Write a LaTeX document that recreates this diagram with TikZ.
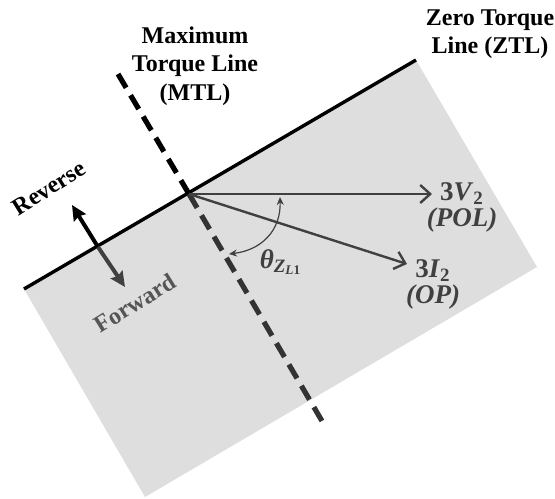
\documentclass[tikz,border=0pt]{standalone}
\usepackage{fontspec}
\setmainfont{Liberation Serif}
\usetikzlibrary{arrows.meta, calc}
\definecolor{zonecolor}{RGB}{222,222,222}
\definecolor{vectorcolor}{RGB}{64,64,64}
\definecolor{fwdcolor}{RGB}{85,85,85}

\begin{document}
\begin{tikzpicture}[
    x=0.5pt, y=-0.5pt,
    zone/.style={fill=zonecolor, draw=none},
    ztl/.style={line width=1.7pt, draw=black},
    mtl/.style={line width=2.6pt, dash pattern=on 8pt off 4.35pt},
    vec/.style={-{Straight Barb[length=5pt,width=9pt]}, line width=1.2pt, draw=vectorcolor},
    dirarrow/.style={-{Stealth[length=7.5pt,width=7pt,inset=1pt]}, line width=2pt},
    anglearc/.style={{Stealth[length=4pt,width=3.5pt]}-{Stealth[length=4pt,width=3.5pt]}, line width=0.6pt, draw=vectorcolor},
    lbl/.style={font=\bfseries\fontsize{12}{14.25}\selectfont, align=center, inner sep=0pt},
    vlbl/.style={font=\bfseries\fontsize{13.5}{13}\selectfont, text=vectorcolor, align=center, inner sep=0pt}
]
    \useasboundingbox (0,0) rectangle (555,498);

    % Forward region
    \coordinate (tl) at (24,289);
    \coordinate (tr) at (416,60);
    \coordinate (br) at (537,267);
    \coordinate (bl) at (145,497);
    \fill[zone] (tl) -- (tr) -- (br) -- (bl) -- cycle;

    % Zero torque line
    \draw[ztl] (tl) -- (tr);

    % Maximum torque line
    \coordinate (o) at (189,194);
    \coordinate (mtltop) at (118,74);
    \coordinate (mtlbot) at (322,421);
    \draw[mtl, black] (mtltop) -- (o);
    \draw[mtl, black!80] (o) -- (mtlbot);

    % Vectors
    \coordinate (v2) at (432,194);
    \coordinate (i2) at (407,264);
    \draw[vec] (o) -- (v2);
    \draw[vec] (o) -- (i2);

    % Angle
    \coordinate (arca) at (280,197);
    \coordinate (arcb) at (229,254);
    \draw[anglearc] (arca) .. controls (281,230) and (262,250) .. (arcb);

    % Direction arrow
    \coordinate (c) at (98,247);
    \coordinate (revtip) at (72,205);
    \coordinate (fwdtip) at (125,287);
    \draw[dirarrow, black] (c) -- (revtip);
    \draw[dirarrow, vectorcolor] (c) -- (fwdtip);

    % Labels
    \node[lbl] (mtllbl) at (195,66) {Maximum\\Torque Line\\(MTL)};
    \node[lbl] (ztllbl) at (490,34) {Zero Torque\\Line (ZTL)};
    \node[lbl, rotate=32] (reverse) at (49,188) {Reverse};
    \node[lbl, rotate=32, text=fwdcolor] (forward) at (135,303) {Forward};
    \node[vlbl] (v2lbl) at (462,207) {3\textit{V}\textsubscript{2}\\\textit{(POL)}};
    \node[vlbl] (i2lbl) at (433,284) {3\textit{I}\textsubscript{2}\\\textit{(OP)}};
    \node[vlbl] (thetalbl) at (281,262) {\textit{θ}\textsubscript{\textit{Z}\textsubscript{\textit{L}1}}};

\end{tikzpicture}
\end{document}
